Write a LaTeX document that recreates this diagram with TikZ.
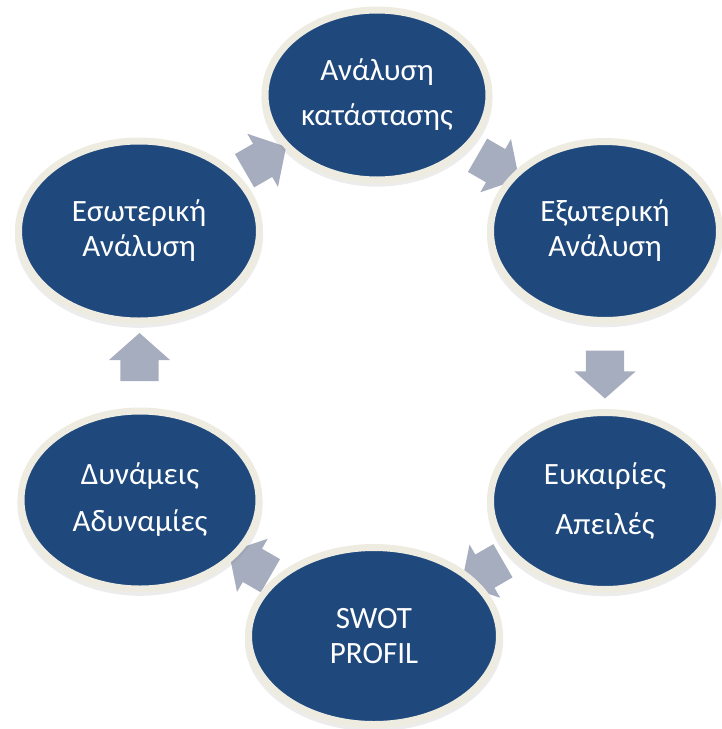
\documentclass[tikz,border=0pt]{standalone}
\usepackage{fontspec}
\setmainfont{Carlito}
\usepackage{tikz}
\usetikzlibrary{shapes,shapes.arrows,calc,positioning,shadows}
\definecolor{ellfill}{HTML}{1F497D}
\definecolor{ellrim}{HTML}{EEECE1}
\definecolor{flowgray}{HTML}{A6ADBF}
\pgfdeclarelayer{back}
\pgfsetlayers{back,main}
\tikzset{
    state/.style ={ellipse, draw=ellrim, line width=7pt, fill=ellfill, text=white,
        inner sep=0pt, align=center, font=\fontsize{31}{35}\selectfont,
        drop shadow={opacity=0.15, shadow xshift=0pt, shadow yshift=-4pt, shadow scale=1.03}},
    flow/.style = {single arrow, fill=flowgray, draw=none, inner xsep=0pt, inner ysep=19pt,
        minimum height=48pt, single arrow head extend=11.5pt, single arrow tip angle=97}
}

\begin{document}
\begin{tikzpicture}[x=1pt,y=-1pt]
        \useasboundingbox (0,0) rectangle (721,729);
        \node[state, minimum width=224pt, minimum height=170pt] (sit) at (377,95) {Ανάλυση\\[10pt]κατάστασης};
        \node[state, minimum width=229pt, minimum height=179pt] (ext) at (605,231) {Εξωτερική\\Ανάλυση};
        \node[state, minimum width=229pt, minimum height=177pt] (opp) at (605,501) {Ευκαιρίες\\[15pt]Απειλές};
        \node[state, minimum width=251pt, minimum height=177pt] (swot) at (374,636) {SWOT\\PROFIL};
        \node[state, minimum width=238pt, minimum height=178pt] (str) at (140,500) {Δυνάμεις\\[12pt]Αδυναμίες};
        \node[state, minimum width=241pt, minimum height=180pt] (int) at (139,231) {Εσωτερική\\Ανάλυση};

        \begin{pgfonlayer}{back}
        \node[flow, rotate=-30] (se) at ($(sit)!0.5!(ext)$) {};
        \node[flow, rotate=-90] (eo) at ($(ext)!0.5!(opp)$) {};
        \node[flow, rotate=-150] (os) at ($(opp)!0.5!(swot)$) {};
        \node[flow, rotate=150] (ss) at ($(swot)!0.5!(str)$) {};
        \node[flow, rotate=90] (si) at ($(str)!0.5!(int)$) {};
        \node[flow, rotate=30] (is) at ($(int)!0.5!(sit)$) {};
        \end{pgfonlayer}
    \end{tikzpicture}
\end{document}
